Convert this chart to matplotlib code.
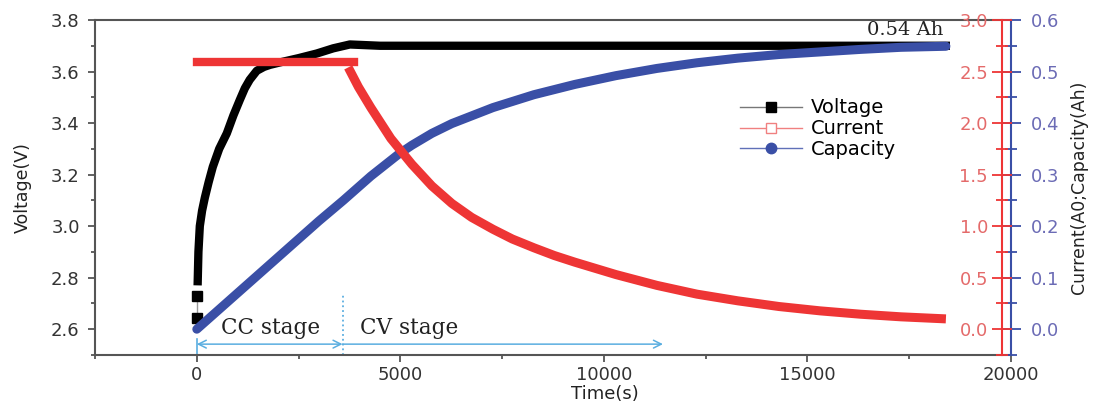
import matplotlib
matplotlib.use("Agg")
import matplotlib.pyplot as plt
from matplotlib.lines import Line2D
from matplotlib.ticker import MultipleLocator

# --- data ---
# voltage (V): two isolated starting points, then the continuous curve
volt_start_t = [0, 0]
volt_start_v = [2.645, 2.73]
volt_t = [20, 40, 74, 130, 197, 290, 393, 550, 737, 900, 1057, 1180, 1300, 1474, 1650, 1800,
          2113, 2500, 2948, 3350, 3760, 4500, 10000, 15000, 18500]
volt_v = [2.77, 2.90, 3.00, 3.06, 3.11, 3.17, 3.23, 3.30, 3.36, 3.43, 3.49, 3.535, 3.568, 3.603,
          3.618, 3.626, 3.638, 3.652, 3.67, 3.69, 3.705, 3.70, 3.70, 3.70, 3.70]

# current (A): constant-current plateau, then the CV decay
cur_flat_t = [0, 3860]
cur_flat_i = [2.59, 2.59]
cur_t = [3720, 3970, 4275, 4767, 5283, 5774, 6265, 6750, 7273, 7750, 8280, 8780, 9287, 10295,
         11302, 12285, 13292, 14300, 15307, 16314, 17297, 18400]
cur_i = [2.54, 2.35, 2.15, 1.85, 1.60, 1.39, 1.22, 1.085, 0.97, 0.875, 0.79, 0.715, 0.65, 0.53,
         0.425, 0.34, 0.275, 0.22, 0.178, 0.145, 0.12, 0.10]

# capacity (Ah)
cap_t = [0, 1000, 2000, 3000, 3600, 4275, 4963, 5283, 5774, 6265, 7273, 8280, 9287, 10295,
         11302, 12285, 13292, 14300, 15307, 16314, 17297, 18400]
cap_c = [0.0, 0.07, 0.14, 0.21, 0.25, 0.297, 0.340, 0.357, 0.380, 0.399, 0.430, 0.455, 0.475,
         0.492, 0.506, 0.517, 0.526, 0.533, 0.538, 0.543, 0.547, 0.549]

# stage boundaries (s): CC start, CC/CV switch, end of CV arrow
stage_t = [0, 3580, 11450]
stage_names = ["CC stage", "CV stage"]
final_capacity = "0.54 Ah"

BLACK = "#000000"
RED = "#ee3535"
RED_TXT = "#e46a6a"
BLUE = "#3a4fa6"
BLUE_TXT = "#6b6bb5"
LIGHT_BLUE = "#5aaee0"
AXIS = "#555555"

fig = plt.figure(figsize=(11.01, 4.08), dpi=100)
ax = fig.add_axes([0.0863, 0.130, 0.832, 0.821])
ax_cap = ax.twinx()
ax_cur = ax.twinx()

# voltage
ax.plot(volt_start_t, volt_start_v, color="#999999", lw=1, marker="s", ms=6.5,
        mfc=BLACK, mec=BLACK, zorder=3)
ax.plot(volt_t, volt_v, color=BLACK, lw=6, solid_capstyle="butt", solid_joinstyle="round", zorder=3)

# capacity
ax_cap.plot(cap_t, cap_c, color=BLUE, lw=6.5, solid_capstyle="round", solid_joinstyle="round")

# current
ax_cur.plot(cur_flat_t, cur_flat_i, color=RED, lw=6, solid_capstyle="projecting")
ax_cur.plot(cur_t, cur_i, color=RED, lw=6.5, solid_capstyle="butt", solid_joinstyle="round")

ax.set_xlim(-2500, 20000)
ax.set_ylim(2.5, 3.8)
ax_cur.set_ylim(-0.25, 3.0)
ax_cap.set_ylim(-0.05, 0.6)

ax.xaxis.set_major_locator(MultipleLocator(5000))
ax.xaxis.set_minor_locator(MultipleLocator(2500))
ax.yaxis.set_major_locator(MultipleLocator(0.2))
ax.yaxis.set_minor_locator(MultipleLocator(0.1))
ax_cur.yaxis.set_major_locator(MultipleLocator(0.5))
ax_cur.yaxis.set_minor_locator(MultipleLocator(0.25))
ax_cap.yaxis.set_major_locator(MultipleLocator(0.1))
ax_cap.yaxis.set_minor_locator(MultipleLocator(0.05))
ax_cur.yaxis.set_major_formatter(lambda v, p: f"{v:.1f}")
ax_cap.yaxis.set_major_formatter(lambda v, p: f"{v:.1f}")
ax.yaxis.set_major_formatter(lambda v, p: f"{v:.1f}")

for name, sp in ax.spines.items():
    sp.set_color(AXIS)
    sp.set_linewidth(1.5)
ax.spines["right"].set_visible(False)

for a in (ax_cap, ax_cur):
    for name in ("top", "bottom", "left", "right"):
        a.spines[name].set_visible(False)

ax_cap.spines["right"].set_visible(True)
ax_cap.spines["right"].set_color(BLUE)
ax_cap.spines["right"].set_linewidth(1.5)

ax_cur.spines["left"].set_visible(True)
ax_cur.spines["left"].set_position(("axes", 0.99))
ax_cur.spines["left"].set_color(RED)
ax_cur.spines["left"].set_linewidth(1.5)
ax_cur.yaxis.set_ticks_position("left")

ax.tick_params(axis="both", which="major", direction="out", length=5, width=1.3,
               color=AXIS, labelcolor="#333333", labelsize=13)
ax.tick_params(axis="both", which="minor", direction="out", length=3, width=1.3, color=AXIS)
ax.tick_params(axis="y", pad=6)
ax.tick_params(axis="x", pad=3)

ax_cur.tick_params(axis="y", which="major", direction="inout", length=14, width=1.3,
                   color=RED, labelcolor=RED_TXT, labelsize=13, pad=3)
ax_cur.tick_params(axis="y", which="minor", direction="inout", length=8, width=1.3, color=RED)
ax_cap.tick_params(axis="y", which="major", direction="inout", length=14, width=1.3,
                   color=BLUE, labelcolor=BLUE_TXT, labelsize=13, pad=7)
ax_cap.tick_params(axis="y", which="minor", direction="inout", length=8, width=1.3, color=BLUE)

ax.set_ylabel("Voltage(V)", fontsize=12.5, color="#222222", labelpad=14)
ax.set_xlabel("Time(s)", fontsize=13, color="#222222", labelpad=1)
ax.xaxis.label.set_x(0.557)
ax_cap.set_ylabel("Current(A0;Capacity(Ah)", fontsize=12.5, color="#222222", labelpad=8)

# stage markers
serif = "DejaVu Serif"
arrow_y = 2.542
ax.plot([stage_t[1], stage_t[1]], [2.5, 2.737], ls=":", color=LIGHT_BLUE, lw=1.3)
ax.plot([stage_t[0], stage_t[0]], [2.5, 2.56], color=LIGHT_BLUE, lw=1.2)
ax.annotate("", xy=(stage_t[0], arrow_y), xytext=(stage_t[1], arrow_y),
            arrowprops=dict(arrowstyle="<->", color=LIGHT_BLUE, lw=1.1,
                            shrinkA=0, shrinkB=0, mutation_scale=14))
ax.annotate("", xy=(stage_t[2], arrow_y), xytext=(stage_t[1], arrow_y),
            arrowprops=dict(arrowstyle="->", color=LIGHT_BLUE, lw=1.1,
                            shrinkA=0, shrinkB=0, mutation_scale=14))
ax.text(600, 2.605, stage_names[0], family=serif, fontsize=15.5, color="#222222", va="center")
ax.text(4000, 2.605, stage_names[1], family=serif, fontsize=15.5, color="#222222", va="center")
ax.text(17400, 3.762, final_capacity, family=serif, fontsize=14, color="#222222",
        ha="center", va="center")

handles = [
    Line2D([], [], color="#777777", lw=1, marker="s", ms=7, mfc=BLACK, mec=BLACK),
    Line2D([], [], color="#f08080", lw=1, marker="s", ms=7, mfc="white", mec="#f08080"),
    Line2D([], [], color="#6070b8", lw=1, marker="o", ms=7.5, mfc=BLUE, mec=BLUE),
]
ax_cur.legend(handles, ["Voltage", "Current", "Capacity"], loc="upper left",
              bbox_to_anchor=(0.693, 0.795), frameon=False, fontsize=14,
              handlelength=3.2, handletextpad=0.45, labelspacing=0.1, borderpad=0)

fig.savefig("out.png", dpi=100)
